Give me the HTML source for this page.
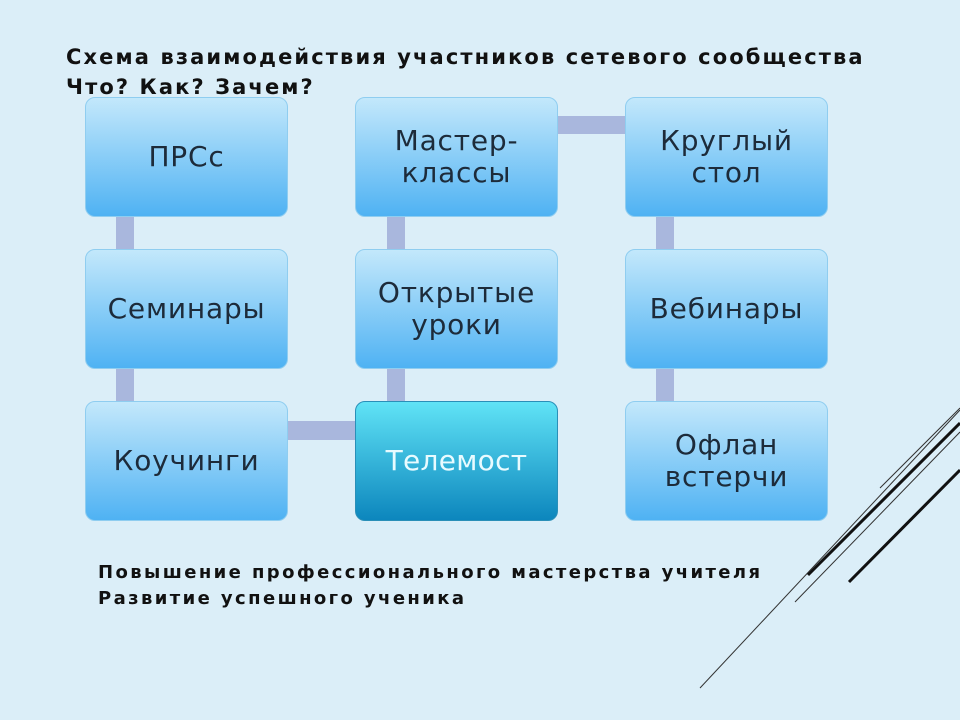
<!DOCTYPE html>
<html><head><meta charset="utf-8"><style>
body{margin:0;width:960px;height:720px;background:#dbeef8;position:relative;overflow:hidden;font-family:"Liberation Sans","DejaVu Sans",sans-serif}
.b{position:absolute;width:203px;height:120px;border-radius:10px;background:linear-gradient(#c3e8fb,#4fb2f3);border:1px solid #8fcdf0;box-sizing:border-box;display:flex;align-items:center;justify-content:center;text-align:center;font-size:28px;line-height:32px;color:#1d2b3a;font-family:"DejaVu Sans","Liberation Sans",sans-serif;letter-spacing:0.8px}
.t{background:linear-gradient(#60e3f6,#0c86bd);border-color:#2a8fb8;color:#e8fbff;letter-spacing:0.3px}
.c{position:absolute;background:#a9b7dd}
.h{position:absolute;font-weight:bold;color:#111;white-space:nowrap;font-family:"DejaVu Sans","Liberation Sans",sans-serif}
</style></head><body>
<div class="h" style="left:66px;top:42px;font-size:21px;line-height:30px;letter-spacing:2.1px">Схема взаимодействия участников сетевого сообщества<br>Что? Как? Зачем?</div>
<div class="c" style="left:116px;top:210px;width:18px;height:200px"></div>
<div class="c" style="left:387px;top:210px;width:18px;height:200px"></div>
<div class="c" style="left:656px;top:210px;width:18px;height:200px"></div>
<div class="c" style="left:280px;top:421px;width:80px;height:19px"></div>
<div class="c" style="left:550px;top:116px;width:80px;height:18px"></div>
<div class="b" style="left:85px;top:97px">ПРСс</div>
<div class="b" style="left:85px;top:249px">Семинары</div>
<div class="b" style="left:85px;top:401px">Коучинги</div>
<div class="b" style="left:355px;top:97px">Мастер-<br>классы</div>
<div class="b" style="left:355px;top:249px">Открытые<br>уроки</div>
<div class="b t" style="left:355px;top:401px">Телемост</div>
<div class="b" style="left:625px;top:97px">Круглый<br>стол</div>
<div class="b" style="left:625px;top:249px">Вебинары</div>
<div class="b" style="left:625px;top:401px">Офлан<br>встерчи</div>
<div class="h" style="left:98px;top:560px;font-size:18px;line-height:26px;letter-spacing:2.4px">Повышение профессионального мастерства учителя<br>Развитие успешного ученика</div>
<svg style="position:absolute;left:0;top:0" width="960" height="720">
<line x1="700" y1="688" x2="960" y2="410" stroke="#333" stroke-width="1"/>
<line x1="880" y1="488" x2="960" y2="408" stroke="#333" stroke-width="1"/>
<line x1="795" y1="602" x2="960" y2="432" stroke="#333" stroke-width="1"/>
<line x1="808" y1="575" x2="960" y2="423" stroke="#111" stroke-width="3"/>
<line x1="849" y1="582" x2="960" y2="470" stroke="#111" stroke-width="3"/>
</svg>
</body></html>
